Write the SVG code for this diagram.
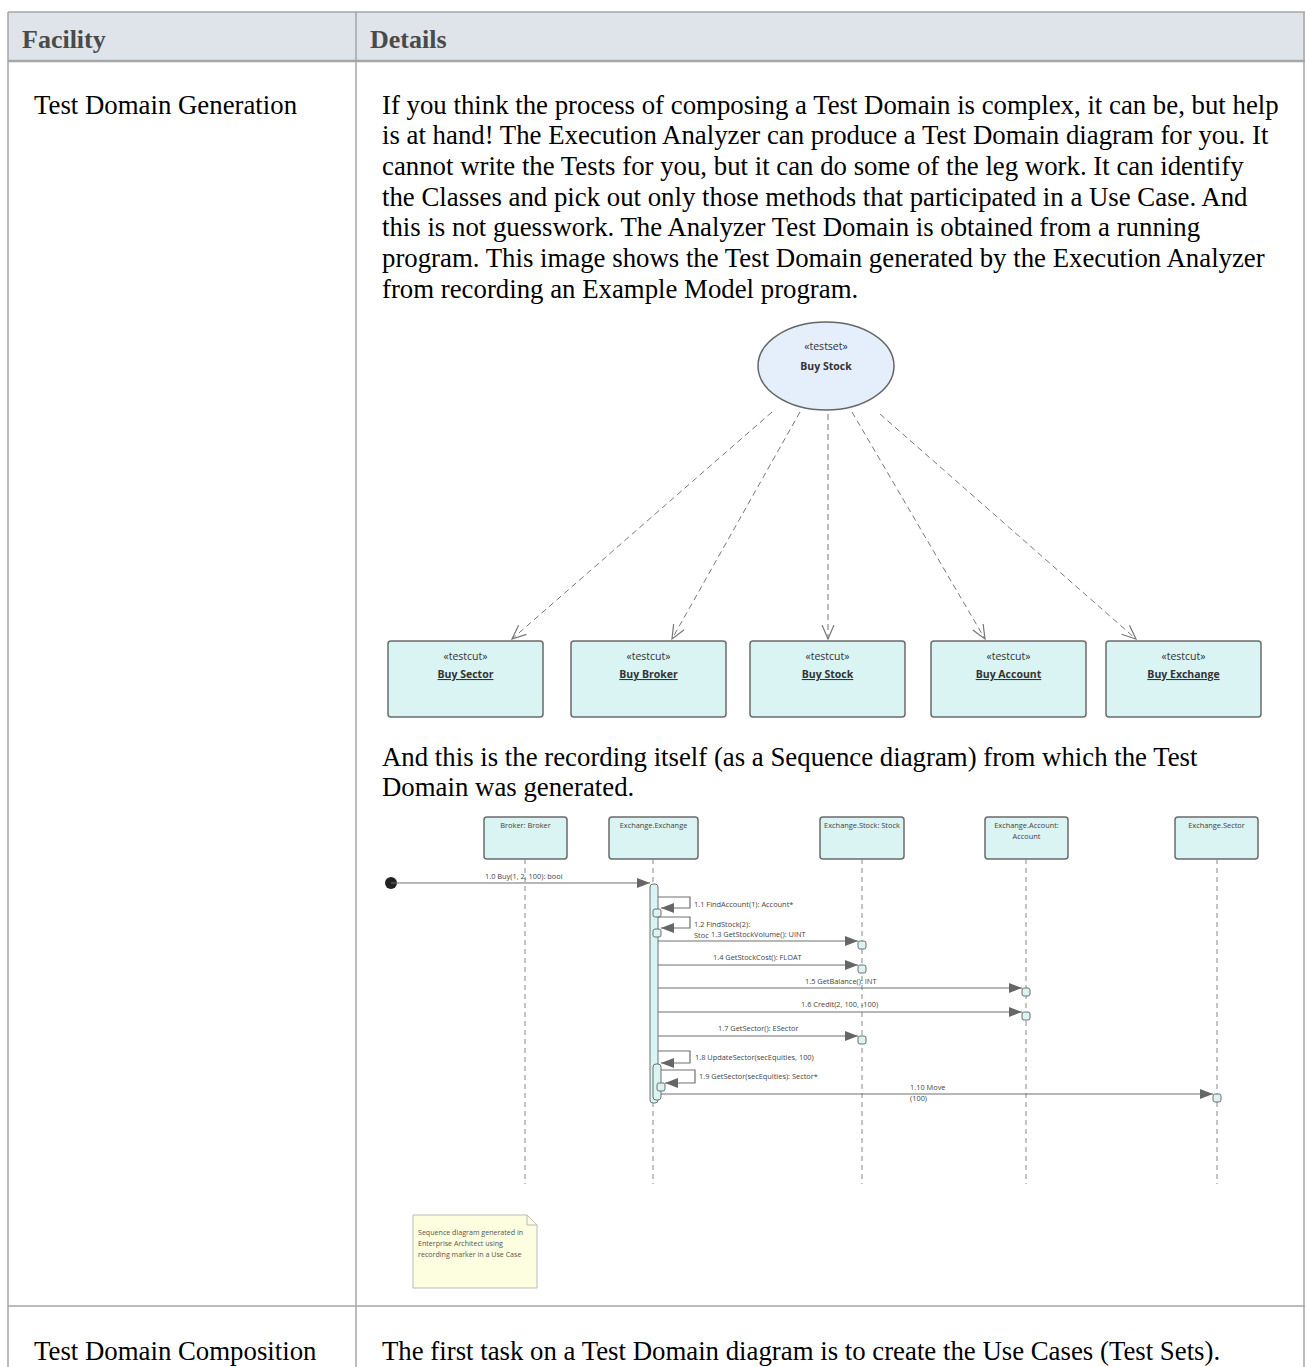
<svg xmlns="http://www.w3.org/2000/svg" width="1305" height="1367" viewBox="0 0 1305 1367">
<defs>
<style>
.hdr{font-family:"Liberation Serif",serif;font-size:26px;font-weight:bold;fill:#4a4a4a}
.body{font-family:"Liberation Serif",serif;font-size:26.8px;fill:#000}
.grid{stroke:#a6a6a6;stroke-width:1.5;fill:none}
.dg{font-family:"Open Sans","Noto Sans",sans-serif;fill:#333}
.st{font-size:10.5px;text-anchor:middle}
.nm{font-size:10.5px;font-weight:bold;text-anchor:middle;text-decoration:underline}
.box{fill:#daf3f3;stroke:#6b6b6b;stroke-width:1.5}
.dep{stroke:#777;stroke-width:1;stroke-dasharray:6,4;fill:none}
.ll{stroke:#888;stroke-width:1;stroke-dasharray:5,4}
.msg{stroke:#707070;stroke-width:1.2;fill:none}
.ml{font-family:"Open Sans","Noto Sans",sans-serif;font-size:7.4px;fill:#444}
.nt{font-family:"Open Sans","Noto Sans",sans-serif;font-size:7.1px;fill:#555}
.act{fill:#daf3f3;stroke:#707070;stroke-width:1}
.hd{font-family:"Open Sans","Noto Sans",sans-serif;font-size:7.4px;fill:#444;text-anchor:middle}
</style>
<marker id="open" markerWidth="16" markerHeight="16" refX="14" refY="8" orient="auto" markerUnits="userSpaceOnUse">
<path d="M0,2 L14,8 L0,14" fill="none" stroke="#777" stroke-width="1.2"/>
</marker>
<marker id="fill" markerWidth="14" markerHeight="10" refX="13" refY="5" orient="auto" markerUnits="userSpaceOnUse">
<path d="M0,0 L13,5 L0,10 Z" fill="#666"/>
</marker>
</defs>
<rect width="1305" height="1367" fill="#fff"/>

<g id="table">
<rect x="8" y="12" width="1297" height="49" fill="#dfe4ea"/>
<line class="grid" x1="8" y1="12" x2="1305" y2="12"/>
<line class="grid" x1="8" y1="12" x2="8" y2="1367"/>
<line class="grid" x1="356" y1="12" x2="356" y2="1367"/>
<line class="grid" x1="1304" y1="12" x2="1304" y2="1367"/>
<line x1="8" y1="61" x2="1305" y2="61" stroke="#a6a6a6" stroke-width="2.5"/>
<line class="grid" x1="8" y1="1306" x2="1305" y2="1306"/>
<text class="hdr" x="22" y="48">Facility</text>
<text class="hdr" x="370" y="48">Details</text>
<text class="body" x="34" y="114">Test Domain Generation</text>
<text class="body" x="382" y="114">If you think the process of composing a Test Domain is complex, it can be, but help</text>
<text class="body" x="382" y="144">is at hand! The Execution Analyzer can produce a Test Domain diagram for you. It</text>
<text class="body" x="382" y="175">cannot write the Tests for you, but it can do some of the leg work. It can identify</text>
<text class="body" x="382" y="206">the Classes and pick out only those methods that participated in a Use Case. And</text>
<text class="body" x="382" y="236">this is not guesswork. The Analyzer Test Domain is obtained from a running</text>
<text class="body" x="382" y="267">program. This image shows the Test Domain generated by the Execution Analyzer</text>
<text class="body" x="382" y="298">from recording an Example Model program.</text>
<text class="body" x="382" y="766">And this is the recording itself (as a Sequence diagram) from which the Test</text>
<text class="body" x="382" y="796">Domain was generated.</text>
<text class="body" x="34" y="1360">Test Domain Composition</text>
<text class="body" x="382" y="1360">The first task on a Test Domain diagram is to create the Use Cases (Test Sets).</text>
</g>

<g id="connectors">
<line class="dep" x1="772" y1="412" x2="512" y2="639" marker-end="url(#open)"/>
<line class="dep" x1="800" y1="412" x2="672" y2="639" marker-end="url(#open)"/>
<line class="dep" x1="828" y1="414" x2="828" y2="639" marker-end="url(#open)"/>
<line class="dep" x1="852" y1="412" x2="985" y2="639" marker-end="url(#open)"/>
<line class="dep" x1="880" y1="414" x2="1136" y2="639" marker-end="url(#open)"/>
</g>

<g id="testset-buy-stock" class="dg">
<ellipse cx="826" cy="366" rx="68" ry="44" fill="#e5effc" stroke="#666" stroke-width="1.5"/>
<text class="st" x="826" y="350">«testset»</text>
<text class="st" x="826" y="370" font-weight="bold">Buy Stock</text>
</g>

<g id="testcut-buy-sector" class="dg">
<rect class="box" x="388" y="641" width="155" height="76" rx="3"/>
<text class="st" x="465.5" y="660">«testcut»</text>
<text class="nm" x="465.5" y="678">Buy Sector</text>
</g>
<g id="testcut-buy-broker" class="dg">
<rect class="box" x="571" y="641" width="155" height="76" rx="3"/>
<text class="st" x="648.5" y="660">«testcut»</text>
<text class="nm" x="648.5" y="678">Buy Broker</text>
</g>
<g id="testcut-buy-stock" class="dg">
<rect class="box" x="750" y="641" width="155" height="76" rx="3"/>
<text class="st" x="827.5" y="660">«testcut»</text>
<text class="nm" x="827.5" y="678">Buy Stock</text>
</g>
<g id="testcut-buy-account" class="dg">
<rect class="box" x="931" y="641" width="155" height="76" rx="3"/>
<text class="st" x="1008.5" y="660">«testcut»</text>
<text class="nm" x="1008.5" y="678">Buy Account</text>
</g>
<g id="testcut-buy-exchange" class="dg">
<rect class="box" x="1106" y="641" width="155" height="76" rx="3"/>
<text class="st" x="1183.5" y="660">«testcut»</text>
<text class="nm" x="1183.5" y="678">Buy Exchange</text>
</g>

<g id="lifeline-broker">
<rect class="box" x="484" y="817" width="83" height="42" rx="3" stroke-width="1.2"/>
<text class="hd" x="525.5" y="828">Broker: Broker</text>
<line class="ll" x1="525" y1="859" x2="525" y2="1184"/>
</g>
<g id="lifeline-exchange">
<rect class="box" x="609" y="817" width="89" height="42" rx="3" stroke-width="1.2"/>
<text class="hd" x="653.5" y="828">Exchange.Exchange</text>
<line class="ll" x1="653" y1="859" x2="653" y2="1184"/>
</g>
<g id="lifeline-stock">
<rect class="box" x="820" y="817" width="84" height="42" rx="3" stroke-width="1.2"/>
<text class="hd" x="862" y="828">Exchange.Stock: Stock</text>
<line class="ll" x1="862" y1="859" x2="862" y2="1184"/>
</g>
<g id="lifeline-account">
<rect class="box" x="985" y="817" width="83" height="42" rx="3" stroke-width="1.2"/>
<text class="hd" x="1026.5" y="828">Exchange.Account:</text>
<text class="hd" x="1026.5" y="839">Account</text>
<line class="ll" x1="1026" y1="859" x2="1026" y2="1184"/>
</g>
<g id="lifeline-sector">
<rect class="box" x="1175" y="817" width="83" height="42" rx="3" stroke-width="1.2"/>
<text class="hd" x="1216.5" y="828">Exchange.Sector</text>
<line class="ll" x1="1217" y1="859" x2="1217" y2="1184"/>
</g>

<g id="activations">
<rect class="act" x="650" y="884" width="8" height="219" rx="3"/>
<rect class="act" x="653" y="1064" width="8" height="36" rx="3"/>
<rect class="act" x="653" y="909" width="8" height="8" rx="2"/>
<rect class="act" x="653" y="929" width="8" height="8" rx="2"/>
<rect class="act" x="858" y="941" width="8" height="8" rx="2"/>
<rect class="act" x="858" y="965" width="8" height="8" rx="2"/>
<rect class="act" x="1022" y="988" width="8" height="8" rx="2"/>
<rect class="act" x="1022" y="1012" width="8" height="8" rx="2"/>
<rect class="act" x="858" y="1036" width="8" height="8" rx="2"/>
<rect class="act" x="657" y="1083" width="8" height="8" rx="2"/>
<rect class="act" x="1213" y="1094" width="8" height="8" rx="2"/>
</g>

<g id="messages">
<circle cx="391" cy="883" r="6" fill="#222"/>
<line class="msg" x1="391" y1="883" x2="650" y2="883" marker-end="url(#fill)"/>
<text class="ml" x="485" y="879">1.0 Buy(1, 2, 100): bool</text>
<path class="msg" d="M658,897 H690 V908 H661" marker-end="url(#fill)"/>
<text class="ml" x="694" y="907">1.1 FindAccount(1): Account*</text>
<path class="msg" d="M658,917 H690 V928 H661" marker-end="url(#fill)"/>
<text class="ml" x="694" y="927">1.2 FindStock(2):</text>
<text class="ml" x="694" y="938">Stoc</text>
<line class="msg" x1="658" y1="941" x2="858" y2="941" marker-end="url(#fill)"/>
<text class="ml" x="711" y="937">1.3 GetStockVolume(): UINT</text>
<line class="msg" x1="658" y1="965" x2="858" y2="965" marker-end="url(#fill)"/>
<text class="ml" x="713" y="960">1.4 GetStockCost(): FLOAT</text>
<line class="msg" x1="658" y1="988" x2="1022" y2="988" marker-end="url(#fill)"/>
<text class="ml" x="805" y="984">1.5 GetBalance(): INT</text>
<line class="msg" x1="658" y1="1012" x2="1022" y2="1012" marker-end="url(#fill)"/>
<text class="ml" x="801" y="1007">1.6 Credit(2, 100, -100)</text>
<line class="msg" x1="658" y1="1036" x2="858" y2="1036" marker-end="url(#fill)"/>
<text class="ml" x="718" y="1031">1.7 GetSector(): ESector</text>
<path class="msg" d="M658,1051 H690 V1063 H661" marker-end="url(#fill)"/>
<text class="ml" x="695" y="1060">1.8 UpdateSector(secEquities, 100)</text>
<path class="msg" d="M661,1070 H695 V1083 H665" marker-end="url(#fill)"/>
<text class="ml" x="699" y="1079">1.9 GetSector(secEquities): Sector*</text>
<line class="msg" x1="661" y1="1094" x2="1213" y2="1094" marker-end="url(#fill)"/>
<text class="ml" x="910" y="1090">1.10 Move</text>
<text class="ml" x="910" y="1101">(100)</text>
</g>

<g id="note">
<path d="M413,1215 H527 L537,1225 V1288 H413 Z" fill="#fdfddf" stroke="#bbb" stroke-width="1"/>
<path d="M527,1215 V1225 H537" fill="none" stroke="#bbb" stroke-width="1"/>
<text class="nt" x="418" y="1235">Sequence diagram generated in</text>
<text class="nt" x="418" y="1246">Enterprise Architect using</text>
<text class="nt" x="418" y="1257">recording marker in a Use Case</text>
</g>
</svg>
